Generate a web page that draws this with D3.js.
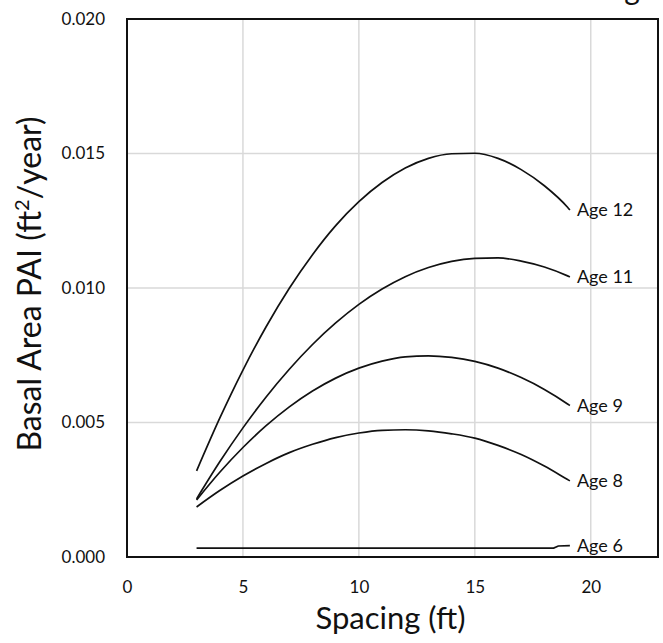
<!DOCTYPE html>
<html>
<head>
<meta charset="utf-8">
<script src="https://cdn.jsdelivr.net/npm/d3@7"></script>
<style>
  body { margin: 0; background: #fff; }
  text { font-family: Lato, "Open Sans", sans-serif; fill: #111; }
</style>
</head>
<body>
<script>
// spacing (ft) at which the curves were read
var spacing = [3, 4, 5, 6, 7, 8, 9, 10, 11, 12, 13, 14, 15, 16, 17, 18, 19, 19.1];
var age12 = [0.00320, 0.00516, 0.00695, 0.00856, 0.00999, 0.01124, 0.01232, 0.01321, 0.01392,
             0.01446, 0.01482, 0.01499, 0.01501, 0.01482, 0.01440, 0.01380, 0.01300, 0.01290];
var age11 = [0.00216, 0.00354, 0.00480, 0.00595, 0.00698, 0.00790, 0.00870, 0.00939, 0.00996,
             0.01042, 0.01076, 0.01099, 0.01110, 0.01112, 0.01100, 0.01078, 0.01045, 0.01041];
var age9  = [0.00212, 0.00315, 0.00407, 0.00488, 0.00558, 0.00617, 0.00665, 0.00702, 0.00728,
             0.00744, 0.00748, 0.00742, 0.00727, 0.00702, 0.00667, 0.00623, 0.00569, 0.00563];
var age8  = [0.00186, 0.00247, 0.00301, 0.00348, 0.00388, 0.00419, 0.00444, 0.00461, 0.00471,
             0.00473, 0.00469, 0.00458, 0.00442, 0.00415, 0.00381, 0.00338, 0.00288, 0.00283];
var age6Spacing = [3, 18.4, 18.6, 19.1];
var age6 = [0.00033, 0.00033, 0.00041, 0.00042];

var seriesNames = ['Age 12', 'Age 11', 'Age 9', 'Age 8', 'Age 6'];
var xTicks = [0, 5, 10, 15, 20];
var yTicks = [0, 0.005, 0.010, 0.015, 0.020];

var width = 663;
var height = 643;
var plot = { left: 127, top: 19, right: 658, bottom: 557 };

var svg, x, y;

function buildSeries() {
    var sets = [
      { xs: spacing, ys: age12 },
      { xs: spacing, ys: age11 },
      { xs: spacing, ys: age9 },
      { xs: spacing, ys: age8 },
      { xs: age6Spacing, ys: age6, straight: true }
    ];
    return sets.map(function(s, i) {
      return {
        name: seriesNames[i],
        straight: s.straight,
        points: s.xs.map(function(v, j) { return [v, s.ys[j]]; })
      };
    });
}

function drawChart() {
    svg = d3.select('body')
            .append('svg')
              .attr('width', width)
              .attr('height', height);

    x = d3.scaleLinear().domain([0, 22.9]).range([plot.left, plot.right]);
    y = d3.scaleLinear().domain([0, 0.020]).range([plot.bottom, plot.top]);

    // title sits above the frame in the source, only the tail of a "g" shows
    svg.append('text')
      .attr('x', 632)
      .attr('y', 0)
      .attr('text-anchor', 'middle')
      .style('font-size', '30px')
      .text('g');

    // gridlines
    svg.append('g')
      .selectAll('line')
      .data(xTicks.slice(1))
      .enter()
      .append('line')
        .attr('x1', function(d) { return x(d); })
        .attr('x2', function(d) { return x(d); })
        .attr('y1', plot.top)
        .attr('y2', plot.bottom)
        .attr('stroke', '#d9d9d9')
        .attr('stroke-width', 1.5);

    svg.append('g')
      .selectAll('line')
      .data(yTicks.slice(1, -1))
      .enter()
      .append('line')
        .attr('x1', plot.left)
        .attr('x2', plot.right)
        .attr('y1', function(d) { return y(d); })
        .attr('y2', function(d) { return y(d); })
        .attr('stroke', '#d9d9d9')
        .attr('stroke-width', 1.5);

    // plot border
    svg.append('rect')
      .attr('x', plot.left)
      .attr('y', plot.top)
      .attr('width', plot.right - plot.left)
      .attr('height', plot.bottom - plot.top)
      .attr('fill', 'none')
      .attr('stroke', '#111')
      .attr('stroke-width', 2);

    // axes (labels only, Excel style)
    var xAxis = svg.append('g')
      .attr('transform', 'translate(0,' + plot.bottom + ')')
      .call(d3.axisBottom(x).tickValues(xTicks).tickSize(0));
    xAxis.select('.domain').remove();
    xAxis.selectAll('text').style('font-size', '17px').attr('dy', '0.35em').attr('y', 30);

    var yAxis = svg.append('g')
      .attr('transform', 'translate(' + plot.left + ',0)')
      .call(d3.axisLeft(y).tickValues(yTicks).tickFormat(d3.format('.3f')).tickSize(0).tickPadding(22));
    yAxis.select('.domain').remove();
    yAxis.selectAll('text').style('font-size', '17px');

    // curves
    var series = buildSeries();
    var smooth = d3.line()
      .x(function(d) { return x(d[0]); })
      .y(function(d) { return y(d[1]); })
      .curve(d3.curveMonotoneX);
    var straight = d3.line()
      .x(function(d) { return x(d[0]); })
      .y(function(d) { return y(d[1]); });

    svg.append('g')
      .selectAll('path')
      .data(series)
      .enter()
      .append('path')
        .attr('d', function(d) { return d.straight ? straight(d.points) : smooth(d.points); })
        .attr('fill', 'none')
        .attr('stroke', '#111')
        .attr('stroke-width', 1.7);

    // end labels
    svg.append('g')
      .selectAll('text')
      .data(series)
      .enter()
      .append('text')
        .attr('x', function(d) { return x(d.points[d.points.length - 1][0]) + 7; })
        .attr('y', function(d) { return y(d.points[d.points.length - 1][1]); })
        .attr('dy', '0.35em')
        .style('font-size', '18px')
        .text(function(d) { return d.name; });

    // axis titles
    svg.append('text')
      .attr('x', (plot.left + plot.right) / 2 - 2)
      .attr('y', 629)
      .attr('text-anchor', 'middle')
      .style('font-size', '31px')
      .text('Spacing (ft)');

    var yTitle = svg.append('text')
      .attr('transform', 'translate(41,284) rotate(-90)')
      .attr('text-anchor', 'middle')
      .style('font-size', '32px');
    yTitle.append('tspan').text('Basal Area PAI (ft');
    yTitle.append('tspan').attr('baseline-shift', 'super').style('font-size', '20px').text('2');
    yTitle.append('tspan').text('/year)');
}

drawChart();
</script>
</body>
</html>
